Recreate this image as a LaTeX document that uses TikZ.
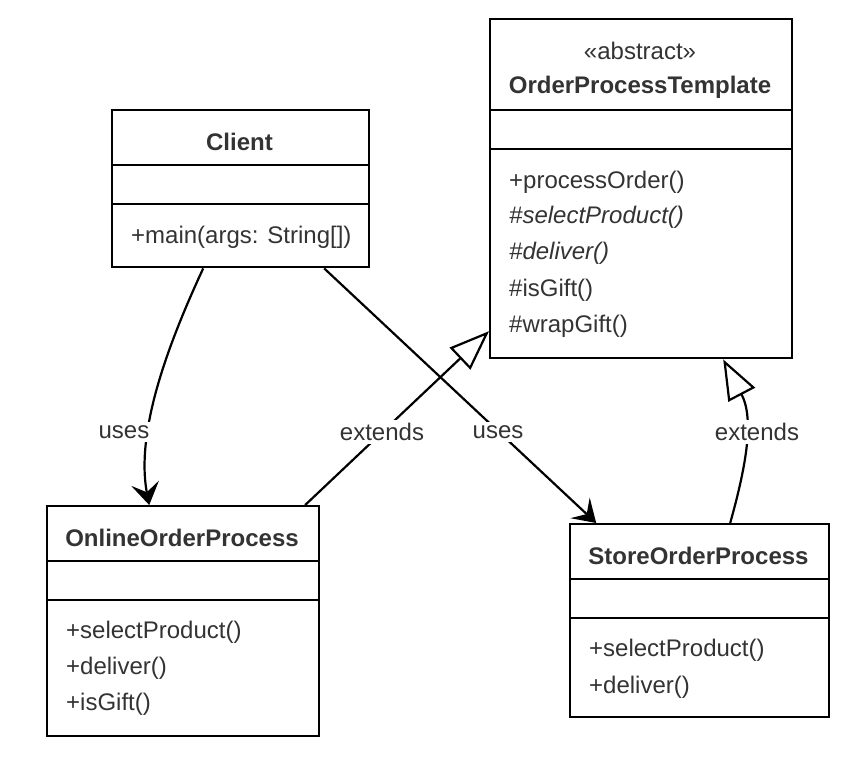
\documentclass[tikz,border=0pt]{standalone}
\usepackage{fontspec}
\setmainfont{Liberation Sans}
\usetikzlibrary{arrows.meta,positioning}
\definecolor{txtgray}{HTML}{333333}

\tikzset{
  classbox/.style={draw, line width=2.4pt, anchor=north west, inner sep=0pt},
  member/.style={anchor=west, inner sep=0pt, text=txtgray},
  title/.style={inner sep=0pt, text=txtgray, font=\fontsize{24}{29}\selectfont\bfseries},
  rel/.style={line width=2.2pt},
  edgelabel/.style={fill=white, inner sep=3pt, text=txtgray},
  uses/.style={rel, -{Stealth[length=22pt,width=28pt,inset=9pt]}},
  extends/.style={rel, -{Triangle[length=40pt,width=30pt,fill=white]}}
}

\begin{document}
\begin{tikzpicture}[x=1pt, y=-1pt, font=\fontsize{24}{29}\selectfont]
    \useasboundingbox (0,0) rectangle (855,768);

    % Abstract class
    \node[classbox, minimum width=302pt, minimum height=339pt] (tmpl) at (489,18) {};
    \draw[line width=2.4pt] (tmpl.west |- 0,110) -- (tmpl.east |- 0,110);
    \draw[line width=2.4pt] (tmpl.west |- 0,149) -- (tmpl.east |- 0,149);
    \node[inner sep=0pt, text=txtgray] (tmplstereo) at (640,51) {«abstract»};
    \node[title] (tmplname) at (640,87) {OrderProcessTemplate};
    \node[member] (t1) at (509,182) {+processOrder()};
    \node[member] (t2) at (509,217) {\itshape\#selectProduct()};
    \node[member] (t3) at (509,253) {\itshape\#deliver()};
    \node[member] (t4) at (509,290) {\#isGift()};
    \node[member] (t5) at (509,326) {\#wrapGift()};

    % Client
    \node[classbox, minimum width=257pt, minimum height=157pt] (client) at (111,109) {};
    \draw[line width=2.4pt] (client.west |- 0,165) -- (client.east |- 0,165);
    \draw[line width=2.4pt] (client.west |- 0,204) -- (client.east |- 0,204);
    \node[title] (clientname) at (239.5,142) {Client};
    \node[member] (c1) at (131,237) {+main(args: String[])};

    % Online order
    \node[classbox, minimum width=272pt, minimum height=230pt] (online) at (46,505) {};
    \draw[line width=2.4pt] (online.west |- 0,561) -- (online.east |- 0,561);
    \draw[line width=2.4pt] (online.west |- 0,600) -- (online.east |- 0,600);
    \node[title] (onlinename) at (182,538) {OnlineOrderProcess};
    \node[member] (o1) at (66,632) {+selectProduct()};
    \node[member] (o2) at (66,668) {+deliver()};
    \node[member] (o3) at (66,704) {+isGift()};

    % Store order
    \node[classbox, minimum width=259pt, minimum height=193pt] (store) at (569,523) {};
    \draw[line width=2.4pt] (store.west |- 0,579) -- (store.east |- 0,579);
    \draw[line width=2.4pt] (store.west |- 0,618) -- (store.east |- 0,618);
    \node[title] (storename) at (698.5,556) {StoreOrderProcess};
    \node[member] (s1) at (589,650) {+selectProduct()};
    \node[member] (s2) at (589,687) {+deliver()};

    % Relations
    \draw[uses] ([xshift=-37.5pt]client.south) .. controls (170,340) and (135,430) .. ([xshift=-34pt]online.north);
    \draw[uses] ([xshift=83.5pt]client.south) -- ([xshift=-103.5pt]store.north);
    \draw[extends] ([xshift=122pt]online.north) -- ([yshift=-142.5pt]tmpl.west);
    \draw[extends] ([xshift=30.5pt]store.north) .. controls (745,470) and (755,420) .. ([xshift=82pt]tmpl.south);

    % Labels
    \node[edgelabel] (l1) at (124,432) {uses};
    \node[edgelabel] (l2) at (382,432) {extends};
    \node[edgelabel] (l3) at (498,432) {uses};
    \node[edgelabel] (l4) at (757,432) {extends};
\end{tikzpicture}
\end{document}
